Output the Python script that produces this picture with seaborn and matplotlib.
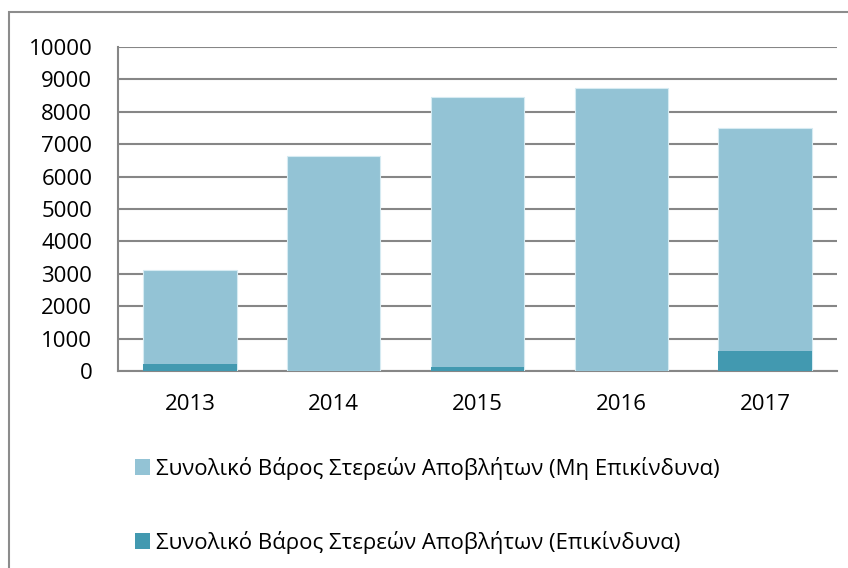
import matplotlib.pyplot as plt
import seaborn as sns
import pandas as pd
from matplotlib.patches import Patch, Rectangle

years = ['2013', '2014', '2015', '2016', '2017']
hazardous = [210, 15, 120, 5, 630]
non_hazardous = [2910, 6625, 8340, 8725, 6870]

label_non = 'Συνολικό Βάρος Στερεών Αποβλήτων (Μη Επικίνδυνα)'
label_haz = 'Συνολικό Βάρος Στερεών Αποβλήτων (Επικίνδυνα)'
c_non = '#93c3d5'
c_haz = '#4299b0'

df = pd.DataFrame({'year': years, 'haz': hazardous, 'non': non_hazardous})
df['total'] = df['haz'] + df['non']

sns.set_style('white')
plt.rcParams['font.family'] = ['Open Sans', 'DejaVu Sans']
plt.rcParams['text.color'] = 'black'
plt.rcParams['xtick.color'] = 'black'
plt.rcParams['ytick.color'] = 'black'

fig = plt.figure(figsize=(8.48, 5.68), dpi=100)
ax = fig.add_axes([118 / 848, 1 - 371 / 568, (837 - 118) / 848, (371 - 47) / 568])

sns.barplot(data=df, x='year', y='total', color=c_non, width=0.65, ax=ax,
            edgecolor='#d6ebf2', linewidth=0.8, saturation=1, zorder=3)
sns.barplot(data=df, x='year', y='haz', color=c_haz, width=0.65, ax=ax,
            linewidth=0, saturation=1, zorder=3)

ax.set_ylim(0, 10000)
ax.set_yticks(range(0, 10001, 1000))
ax.set_xlabel('')
ax.set_ylabel('')
ax.yaxis.grid(True, color='#868686', linewidth=1.5, zorder=0)
ax.set_axisbelow(True)
for s in ['top', 'right']:
    ax.spines[s].set_visible(False)
for s in ['left', 'bottom']:
    ax.spines[s].set_color('#868686')
    ax.spines[s].set_linewidth(1.5)
ax.tick_params(axis='y', left=False, labelsize=16, pad=15)
ax.tick_params(axis='x', bottom=False, labelsize=16, pad=13)

handles = [Patch(facecolor=c_non, edgecolor='none'), Patch(facecolor=c_haz, edgecolor='none')]
fig.legend(handles, [label_non, label_haz], loc='upper left', bbox_to_anchor=(126 / 848, 1 - 448 / 568),
           frameon=False, fontsize=16, handlelength=0.7, handleheight=0.7, handletextpad=0.25,
           labelspacing=2.3, borderaxespad=0)

fig.patches.append(Rectangle((9 / 848, -0.02), 1.0, 1 - 12 / 568 + 0.02, transform=fig.transFigure,
                             fill=False, edgecolor='#8c8c8c', linewidth=1.5))

fig.savefig('out.png', dpi=100)
